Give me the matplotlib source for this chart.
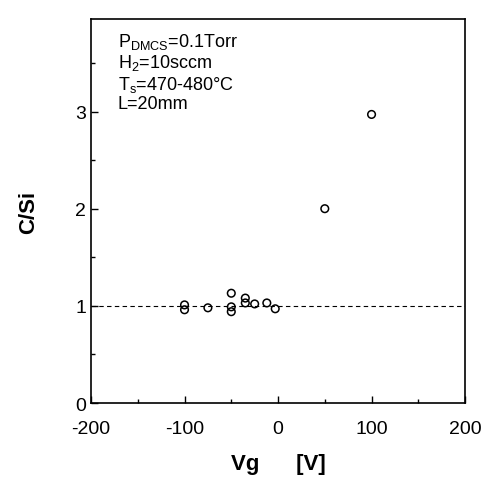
import numpy as np
import matplotlib
matplotlib.use("Agg")
import matplotlib.pyplot as plt
from matplotlib.ticker import MultipleLocator

plt.rcParams['font.family'] = ['Liberation Sans', 'DejaVu Sans']
plt.rcParams['axes.unicode_minus'] = False
plt.rcParams['mathtext.fontset'] = 'custom'
plt.rcParams['mathtext.rm'] = 'Liberation Sans'

# data
vg = [-100, -100, -75, -50, -50, -50, -35, -35, -25, -12, -3, 50, 100]
c_si = [1.01, 0.96, 0.98, 1.13, 0.99, 0.94, 1.08, 1.03, 1.02, 1.03, 0.97, 2.0, 2.97]
ref_level = 1.0
conditions = [r'P$_{\rm DMCS}$=0.1Torr', r'H$_2$=10sccm', r'T$_{\rm s}$=470-480°C', 'L=20mm']

fig = plt.figure(figsize=(4.88, 4.81), dpi=100)
ax = fig.add_axes([0.1865, 0.160, 0.7665, 0.798])

ax.axhline(ref_level, color='black', linestyle=(0, (4, 3)), linewidth=0.8)
ax.scatter(vg, c_si, s=30, facecolors='none', edgecolors='black', linewidths=1.1, zorder=3)

ax.set_xlim(-200, 200)
ax.set_ylim(0, 3.95)
ax.xaxis.set_major_locator(MultipleLocator(100))
ax.xaxis.set_minor_locator(MultipleLocator(50))
ax.yaxis.set_major_locator(MultipleLocator(1))
ax.yaxis.set_minor_locator(MultipleLocator(0.5))
ax.tick_params(which='both', direction='in', top=False, right=False, labelsize=14)
ax.tick_params(which='major', length=5, width=1)
ax.tick_params(which='minor', length=3, width=1)
ax.tick_params(axis='x', which='major', pad=12)
for sp in ax.spines.values():
    sp.set_linewidth(1.2)

ax.set_xlabel('Vg      [V]', fontsize=16, fontweight='bold', labelpad=12)
ax.set_ylabel('C/Si', fontsize=16, fontweight='bold', labelpad=26)

y0 = 0.97
for i, t in enumerate(conditions):
    ax.text(0.072, y0 - i * 0.056, t, transform=ax.transAxes, fontsize=13,
            va='top', ha='left')

fig.savefig('out.png', dpi=100)
